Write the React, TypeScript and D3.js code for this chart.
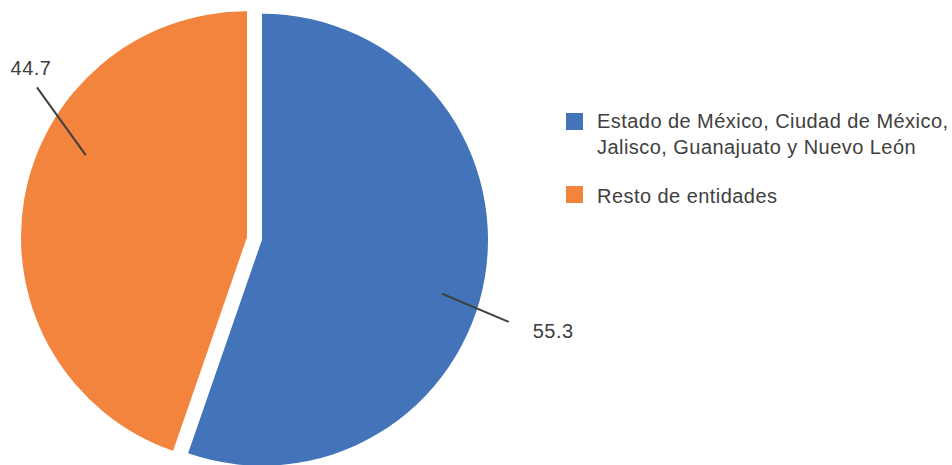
import React from "react";
import * as d3 from "d3";

const categories = [
  "Estado de México, Ciudad de México, Jalisco, Guanajuato y Nuevo León",
  "Resto de entidades",
];
const legendLines = [
  ["Estado de México, Ciudad de México,", "Jalisco, Guanajuato y Nuevo León"],
  ["Resto de entidades"],
];
const values = [55.3, 44.7];
const labels = ["55.3", "44.7"];
const colors = ["#4374B9", "#F3843E"];

const W = 952;
const H = 465;
const CX = 254.5;
const CY = 238.5;
const R = 226;
const EXPLODE = 7.6;
// leader line: [angle (deg clockwise from top), inner radius, outer radius]
const leaders = [
  { inA: 106.7, inR: 188, outA: 108.4, outR: 260, dx: 24, dy: 16, anchor: "start" },
  { inA: 297, inR: 181, outA: 305.5, outR: 258, dx: -6, dy: -12, anchor: "middle" },
];

export default function App() {
  const pie = d3.pie<number>().sort(null).value((d) => d)(values);
  const arc = d3.arc<d3.PieArcDatum<number>>().innerRadius(0).outerRadius(R);
  const pol = (a: number, r: number) => {
    const t = (a * Math.PI) / 180;
    return [Math.sin(t) * r, -Math.cos(t) * r];
  };
  const font = "'Liberation Sans', Arial, sans-serif";
  return (
    <svg
      width={W}
      height={H}
      style={{ position: "absolute", left: 0, top: 0, background: "#fff" }}
    >
      {pie.map((p, i) => {
        const mid = (p.startAngle + p.endAngle) / 2;
        const ox = Math.sin(mid) * EXPLODE;
        const oy = -Math.cos(mid) * EXPLODE;
        const L = leaders[i];
        const [x1, y1] = pol(L.inA, L.inR);
        const [x2, y2] = pol(L.outA, L.outR);
        return (
          <g key={i} transform={`translate(${CX + ox},${CY + oy})`}>
            <path d={arc(p) || ""} fill={colors[i]} />
            <line x1={x1} y1={y1} x2={x2} y2={y2} stroke="#404040" strokeWidth={2} />
            <text
              x={x2 + L.dx}
              y={y2 + L.dy}
              textAnchor={L.anchor as any}
              fontFamily={font}
              fontSize={20}
              letterSpacing={0.5}
              fill="#404040"
            >
              {labels[i]}
            </text>
          </g>
        );
      })}
      <g transform="translate(566,0)">
        {categories.map((c, i) => {
          const top = i === 0 ? 113 : 186;
          return (
            <g key={c}>
              <rect x={0} y={top} width={17} height={17} fill={colors[i]} />
              {legendLines[i].map((ln, j) => (
                <text
                  key={j}
                  x={31}
                  y={top + (i === 0 ? 15 : 17) + j * 26}
                  fontFamily={font}
                  fontSize={20}
                  letterSpacing={0.45}
                  fill="#404040"
                >
                  {ln}
                </text>
              ))}
            </g>
          );
        })}
      </g>
    </svg>
  );
}
